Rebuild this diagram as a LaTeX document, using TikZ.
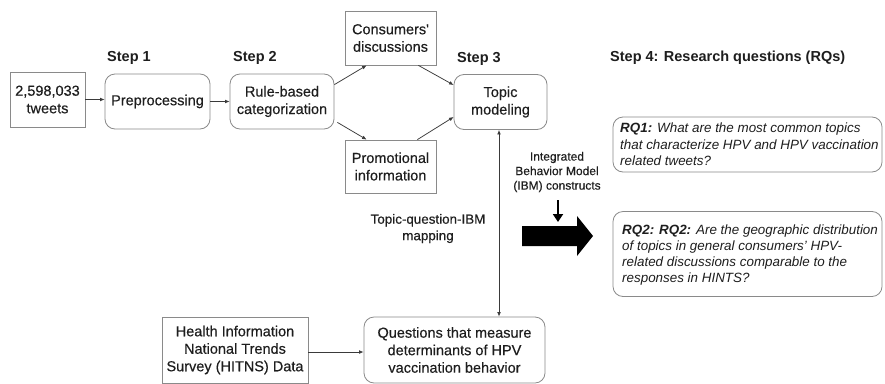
\documentclass[tikz,border=0pt]{standalone}
\usepackage{fontspec}
\setmainfont{Liberation Sans}
\newfontfamily\medsans{Liberation Sans}[FakeBold=0.35]
\usetikzlibrary{arrows.meta,calc}

\definecolor{boxline}{HTML}{8A8A8A}
\definecolor{ink}{HTML}{1E1E1E}
\definecolor{wire}{HTML}{3A3A3A}

\newcommand{\boxfont}{\medsans\fontsize{14.5}{17.5}\selectfont}
\newcommand{\stepfont}{\fontsize{14.5}{17.5}\selectfont\bfseries}
\newcommand{\rqfont}{\fontsize{13.4}{16.3}\selectfont\itshape}

\tikzset{
  sqbox/.style={draw=boxline, line width=0.8pt, inner sep=0pt, align=center,
    font=\boxfont, text=ink},
  rbox/.style={sqbox, rounded corners=10pt},
  rqbox/.style={draw=boxline, line width=0.8pt, rounded corners=10pt, inner sep=0pt,
    font=\rqfont, text=ink},
  steplabel/.style={anchor=west, font=\stepfont, text=ink, inner sep=0pt},
  flow/.style={draw=wire, line width=0.75pt, -{Latex[length=4.5pt,width=3.8pt]}},
  both/.style={draw=wire, line width=0.75pt, {Latex[length=4.5pt,width=3.8pt]}-{Latex[length=4.5pt,width=3.8pt]}},
}

\begin{document}
\begin{tikzpicture}[x=1pt, y=-1pt]
  \useasboundingbox[fill=white] (0,0) rectangle (885,383);

  % pipeline boxes
  \node[sqbox, minimum width=75pt, minimum height=55pt] (tweets) at (47.5,99.5) {2,598,033\\tweets};
  \node[rbox, minimum width=105pt, minimum height=55pt] (prep) at (157.5,101.5) {Preprocessing};
  \node[rbox, minimum width=104pt, minimum height=55pt] (rule) at (282,101.5) {Rule-based\\categorization};
  \node[sqbox, minimum width=91pt, minimum height=54pt] (cons) at (390.5,38) {Consumers'\\discussions};
  \node[sqbox, minimum width=91pt, minimum height=53pt] (promo) at (390.5,166.5) {Promotional\\information};
  \node[rbox, minimum width=93pt, minimum height=55pt] (topic) at (500.5,102) {Topic\\modeling};

  % survey side
  \node[sqbox, minimum width=146pt, minimum height=66pt] (health) at (235,350) {Health Information\\National Trends\\Survey (HITNS) Data};
  \node[rbox, minimum width=181pt, minimum height=66pt] (quest) at (454.5,350) {Questions that measure\\determinants of HPV\\vaccination behavior};

  % step headings
  \node[steplabel] (s1) at (107,58) {Step 1};
  \node[steplabel] (s2) at (233,58) {Step 2};
  \node[steplabel] (s3) at (457,59) {Step 3};
  \node[steplabel] (s4) at (610,58) {Step 4: Research questions (RQs)};

  % research questions
  \node[rqbox, minimum width=269pt, minimum height=55pt] (rq1) at (747.5,144.5) {};
  \node[anchor=west, inner sep=0pt, align=left, font=\rqfont, text=ink] (rq1t) at (620,144.5)
    {\textbf{RQ1:} What are the most common topics\\that characterize HPV and HPV vaccination\\related tweets?};
  \node[rqbox, minimum width=269pt, minimum height=85pt] (rq2) at (747.5,254) {};
  \node[anchor=west, inner sep=0pt, align=left, font=\rqfont, text=ink] (rq2t) at (622,255)
    {\textbf{RQ2: RQ2:} Are the geographic distribution\\of topics in general consumers' HPV-\\related discussions comparable to the\\responses in HINTS?};

  % side labels
  \node[align=center, inner sep=0pt, font=\medsans\fontsize{12}{14.5}\selectfont, text=ink] (ibm) at (557,172)
    {Integrated\\Behavior Model\\(IBM) constructs};
  \node[align=center, inner sep=0pt, font=\medsans\fontsize{13.4}{16.5}\selectfont, text=ink] (map) at (428,228.5)
    {Topic-question-IBM\\mapping};

  % connectors
  \draw[flow] (tweets.east) -- (tweets.east -| prep.west);
  \draw[flow] (prep.east) -- (rule.west);
  \draw[flow] ($(rule.north east)+(0,11)$) -- ($(cons.south west)+(22,0)$);
  \draw[flow] ($(rule.south east)+(3,-7)$) -- ($(promo.north west)+(22,0)$);
  \draw[flow] ($(cons.south east)+(-18,0)$) -- ($(topic.west)+(0,-17)$);
  \draw[flow] ($(promo.north east)+(-19,0)$) -- ($(topic.west)+(0,15)$);
  \draw[both] ($(topic.south)+(-1.5,0)$) coordinate (vtop) -- (vtop |- quest.north);
  \draw[flow] (health.east |- 0,352) -- (quest.west |- 0,352);

  % constructs feeding into the mapping
  \coordinate (dtop) at (558,200);
  \coordinate (dbot) at (558,222);
  \draw[line width=1.8pt, draw=black, -{Triangle[length=8pt,width=10pt]}] (dtop) -- (dbot);
  \fill[black] (522,226) -- (577,226) -- (577,216) -- (593,236) -- (577,256) -- (577,246) -- (522,246) -- cycle;
\end{tikzpicture}
\end{document}
